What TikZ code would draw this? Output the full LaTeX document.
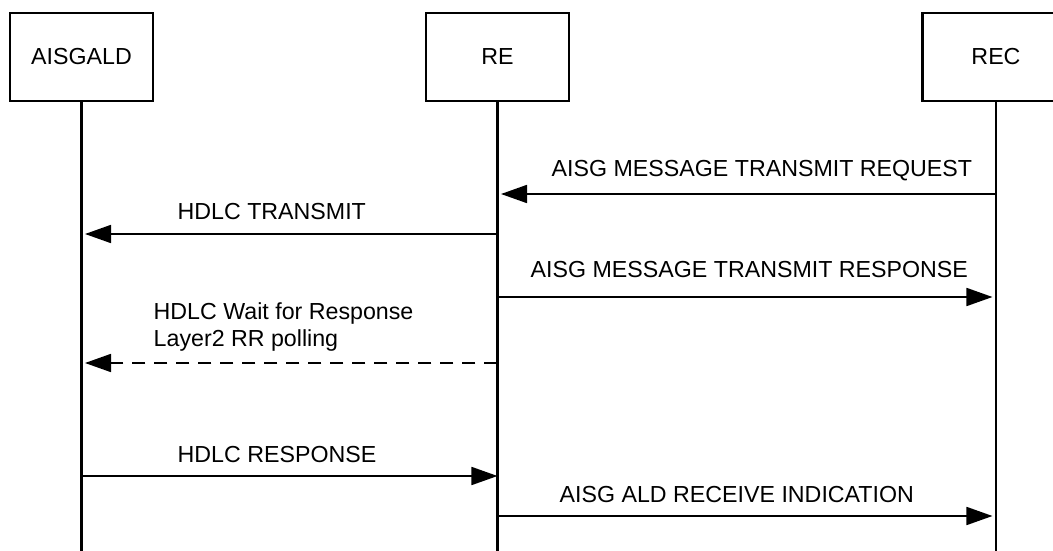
\documentclass[tikz,border=0pt]{standalone}
\usepackage{fontspec}
\setmainfont{Liberation Sans}
\usetikzlibrary{arrows.meta}
\begin{document}
\begin{tikzpicture}[x=0.01cm,y=-0.01cm,font=\fontsize{6.6}{7.9}\selectfont,
	entity/.style={draw,line width=0.6pt,minimum width=1.43cm,minimum height=0.88cm,inner sep=0pt},
	lifeline/.style={line width=0.6pt},
	msg/.style={line width=0.5pt,-{Triangle[length=0.26cm,width=0.18cm]}},
	reply/.style={msg,dash pattern=on 0.13cm off 0.09cm},
	lbl/.style={anchor=base west,inner sep=0pt}]
	\useasboundingbox (0,0) rectangle (1053,551);
	\clip (0,0) rectangle (1053,551);
	%osapuolet
	\node[entity] (ald) at (81.5,57) {AISGALD};
	\node[entity] (re) at (497.5,57) {RE};
	\node[entity,minimum width=1.47cm] (rec) at (996,57) {REC};
	%elinviivat
	\coordinate (ald-end) at (ald.south |- 0,551);
	\coordinate (re-end) at (re.south |- 0,551);
	\coordinate (rec-end) at (rec.south |- 0,551);
	\draw[lifeline] (ald.south) -- (ald-end);
	\draw[lifeline] (re.south) -- (re-end);
	\draw[lifeline] (rec.south) -- (rec-end);
	%viestipisteet
	\foreach \n/\y in {1/194,2/234,3/297,4/363,5/476,6/516}{
		\coordinate (ald\n) at (ald.south |- 0,\y);
		\coordinate (re\n) at (re.south |- 0,\y);
		\coordinate (rec\n) at (rec.south |- 0,\y);
	}
	%viestit
	\draw[msg,shorten >=1pt] (rec1) -- (re1);
	\draw[msg,shorten >=1pt] (re2) -- (ald2);
	\draw[msg,shorten >=1pt] (re3) -- (rec3);
	\draw[reply,shorten >=1pt] (re4) -- (ald4);
	\draw[msg] (ald5) -- (re5);
	\draw[msg,shorten >=1pt] (re6) -- (rec6);
	%tekstit
	\node[lbl] (req) at (551,176) {AISG MESSAGE TRANSMIT REQUEST};
	\node[lbl] (tx) at (177,219) {HDLC TRANSMIT};
	\node[lbl] (resp) at (530,277) {AISG MESSAGE TRANSMIT RESPONSE};
	\node[lbl] (wait) at (153,319) {HDLC Wait for Response};
	\node[lbl] (poll) at (153,346) {Layer2 RR polling};
	\node[lbl] (hresp) at (177,462) {HDLC RESPONSE};
	\node[lbl] (ind) at (559,502) {AISG ALD RECEIVE INDICATION};
\end{tikzpicture}
\end{document}
